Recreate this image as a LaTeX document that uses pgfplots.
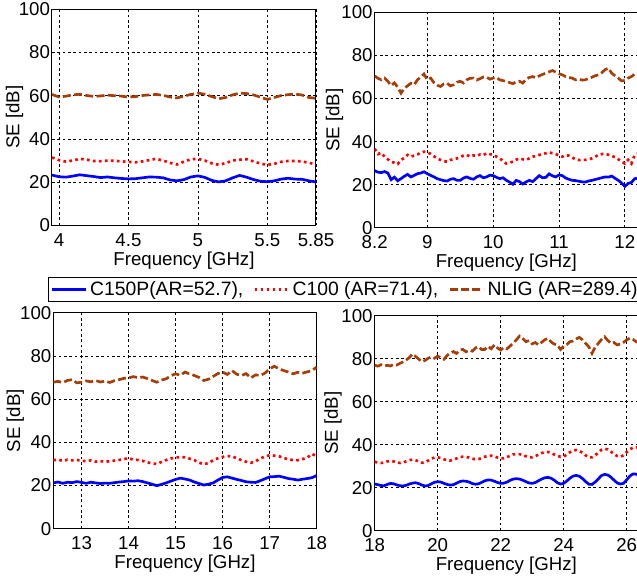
\documentclass[border=0pt]{standalone}
\usepackage{fontspec}
\setmainfont{Liberation Sans}
\usepackage{pgfplots}
\pgfplotsset{compat=1.18}
\definecolor{cblue}{RGB}{0,0,255}
\definecolor{cred}{RGB}{255,0,0}
\definecolor{cbrown}{RGB}{165,62,8}
\newcommand{\sefont}{\fontsize{14}{16}\selectfont}
\newcommand{\legfont}{\fontsize{14.5}{16}\selectfont}
\pgfplotsset{
  seaxis/.style={
    scale only axis, anchor=south west,
    ymin=0, ymax=100, ytick={0,20,40,60,80,100},
    grid=major,
    major grid style={black, line width=0.5pt, dash pattern=on 2pt off 2pt},
    axis line style={black, line width=0.75pt},
    tick style={draw=none},
    /pgf/number format/assume math mode=true,
    tick label style={font=\sefont},
    xticklabel style={yshift=-2.5pt},
    yticklabel style={xshift=2pt},
    label style={font=\sefont},
    xlabel={Frequency [GHz]}, ylabel={SE [dB]},
    xlabel style={at={(axis description cs:0.5,0)}, anchor=center, yshift=-26.5pt},
    clip=true,
  },
  sblue/.style={color=cblue, line width=2pt, solid},
  sred/.style={color=cred, line width=2pt, dash pattern=on 2pt off 2.5pt},
  sbrown/.style={color=cbrown, line width=2pt, dash pattern=on 6pt off 2.5pt},
}
\begin{document}
\begin{tikzpicture}
\useasboundingbox (0pt,0pt) rectangle (477.75pt,-434.25pt);
% ---------------- top left ----------------
\begin{axis}[seaxis, at={(39pt,-169pt)}, width=198pt, height=162pt,
  xmin=3.95, xmax=5.85, xtick={4,4.5,5,5.5,5.85},
  ylabel style={at={(axis description cs:-0.142,0.5)}, anchor=center},
  legend columns=3,
  legend style={at={(axis description cs:-0.0163,-0.2405)}, anchor=north west,
    draw=black, line width=0.75pt, fill=white, font=\legfont,
    inner xsep=2pt, inner ysep=1pt, nodes={inner sep=2pt},
    /tikz/every even column/.append style={column sep=5.5pt}},
  legend cell align=left,
  legend image code/.code={\draw[#1] (0pt,0pt) -- (25.5pt,0pt);},
]
\addplot[sblue] coordinates {(3.95,23.3) (4.00,22.5) (4.05,22.3) (4.10,22.8) (4.15,23.4) (4.20,23.0) (4.25,22.6) (4.30,22.1) (4.35,22.4) (4.40,22.0) (4.45,21.7) (4.50,21.5) (4.55,21.6) (4.60,22.0) (4.65,22.4) (4.70,22.3) (4.75,22.0) (4.80,21.0) (4.85,20.6) (4.90,21.2) (4.95,22.4) (5.00,22.9) (5.05,22.2) (5.10,20.8) (5.15,20.1) (5.20,20.6) (5.25,22.0) (5.30,23.1) (5.35,22.3) (5.40,21.2) (5.45,20.4) (5.50,20.2) (5.55,20.6) (5.60,21.4) (5.65,21.8) (5.70,21.4) (5.75,21.3) (5.80,20.6) (5.85,20.1)};
\addlegendentry{C150P(AR=52.7),}
\addplot[sred] coordinates {(3.95,31.4) (4.00,30.2) (4.05,29.5) (4.10,30.0) (4.15,30.8) (4.20,30.4) (4.25,29.8) (4.30,29.7) (4.35,30.0) (4.40,29.9) (4.45,29.6) (4.50,29.4) (4.55,29.2) (4.60,29.6) (4.65,30.2) (4.70,30.8) (4.75,30.0) (4.80,28.9) (4.85,28.2) (4.90,29.5) (4.95,30.6) (5.00,30.8) (5.05,30.0) (5.10,28.7) (5.15,28.0) (5.20,28.8) (5.25,30.0) (5.30,30.4) (5.35,30.6) (5.40,29.6) (5.45,28.6) (5.50,28.0) (5.55,28.5) (5.60,29.4) (5.65,29.8) (5.70,29.8) (5.75,29.6) (5.80,28.9) (5.85,28.3)};
\addlegendentry{C100 (AR=71.4),}
\addplot[sbrown] coordinates {(3.95,60.6) (4.00,59.4) (4.05,59.8) (4.10,60.4) (4.15,60.7) (4.20,60.1) (4.25,59.7) (4.30,59.9) (4.35,60.3) (4.40,60.0) (4.45,59.8) (4.50,59.4) (4.55,59.6) (4.60,60.1) (4.65,60.4) (4.70,60.6) (4.75,60.2) (4.80,59.4) (4.85,59.0) (4.90,59.8) (4.95,60.6) (5.00,61.2) (5.05,60.7) (5.10,59.6) (5.15,58.6) (5.20,59.2) (5.25,60.4) (5.30,61.2) (5.35,61.0) (5.40,60.4) (5.45,59.3) (5.50,58.3) (5.55,59.2) (5.60,60.1) (5.65,60.5) (5.70,60.8) (5.75,60.3) (5.80,59.2) (5.85,58.8)};
\addlegendentry{NLIG (AR=289.4)}
\end{axis}
% ---------------- top right ----------------
\begin{axis}[seaxis, at={(281pt,-170.8pt)}, width=197.5pt, height=161.5pt,
  xmin=8.2, xmax=12.2, xtick={8.2,9,10,11,12},
  ylabel style={at={(axis description cs:-0.152,0.5)}, anchor=center},
]
\addplot[sblue] coordinates {(8.20,26.5) (8.25,25.8) (8.30,25.6) (8.35,26.1) (8.40,25.4) (8.45,22.3) (8.50,23.5) (8.55,21.8) (8.60,22.8) (8.65,23.9) (8.70,24.8) (8.75,23.6) (8.80,24.3) (8.85,25.1) (8.90,25.4) (8.95,26.0) (9.00,25.1) (9.05,24.3) (9.10,23.6) (9.15,22.8) (9.20,22.3) (9.25,21.9) (9.30,21.7) (9.35,22.5) (9.40,22.8) (9.45,22.0) (9.50,22.0) (9.55,23.1) (9.60,23.6) (9.65,22.9) (9.70,22.5) (9.75,23.6) (9.80,24.2) (9.85,23.2) (9.90,23.6) (9.95,24.4) (10.00,24.2) (10.05,23.4) (10.10,22.8) (10.15,23.2) (10.20,22.0) (10.25,21.2) (10.30,20.2) (10.35,22.0) (10.40,21.4) (10.45,20.3) (10.50,21.3) (10.55,22.0) (10.60,21.4) (10.65,22.8) (10.70,24.2) (10.75,23.2) (10.80,23.4) (10.85,25.0) (10.90,24.1) (10.95,23.6) (11.00,24.5) (11.05,24.2) (11.10,23.1) (11.15,22.5) (11.20,22.0) (11.25,21.9) (11.30,21.6) (11.35,21.3) (11.40,21.2) (11.45,21.7) (11.50,22.0) (11.55,22.4) (11.60,22.8) (11.65,23.2) (11.70,23.6) (11.75,23.5) (11.80,24.0) (11.85,23.0) (11.90,22.0) (11.95,20.8) (12.00,19.2) (12.05,20.6) (12.10,21.0) (12.15,22.8) (12.20,23.0) (12.25,22.4) (12.30,23.1) (12.35,22.5) (12.40,22.8)};
\addplot[sred] coordinates {(8.20,36.6) (8.25,34.2) (8.30,34.8) (8.35,33.0) (8.40,31.8) (8.45,30.6) (8.50,30.2) (8.55,29.6) (8.60,31.5) (8.65,32.4) (8.70,33.8) (8.75,33.0) (8.80,33.5) (8.85,34.0) (8.90,34.8) (8.95,35.3) (9.00,35.0) (9.05,34.3) (9.10,33.2) (9.15,32.2) (9.20,31.5) (9.25,30.9) (9.30,30.7) (9.35,31.5) (9.40,31.8) (9.45,32.2) (9.50,32.8) (9.55,33.5) (9.60,33.8) (9.65,33.0) (9.70,33.6) (9.75,33.3) (9.80,34.0) (9.85,33.7) (9.90,34.6) (9.95,34.2) (10.00,33.8) (10.05,33.0) (10.10,32.2) (10.15,31.0) (10.20,29.8) (10.25,30.2) (10.30,30.7) (10.35,31.6) (10.40,32.2) (10.45,31.8) (10.50,31.5) (10.55,32.2) (10.60,33.0) (10.65,33.3) (10.70,33.8) (10.75,34.2) (10.80,34.6) (10.85,35.0) (10.90,34.6) (10.95,34.3) (11.00,33.5) (11.05,33.0) (11.10,33.6) (11.15,33.5) (11.20,32.6) (11.25,31.8) (11.30,31.4) (11.35,31.5) (11.40,31.5) (11.45,31.8) (11.50,32.2) (11.55,33.0) (11.60,33.8) (11.65,34.2) (11.70,34.3) (11.75,33.9) (11.80,33.3) (11.85,32.8) (11.90,31.8) (11.95,30.8) (12.00,29.8) (12.05,31.5) (12.10,29.8) (12.15,33.8) (12.20,34.5) (12.25,33.6) (12.30,33.0) (12.35,33.8) (12.40,34.0)};
\addplot[sbrown] coordinates {(8.20,70.5) (8.25,69.4) (8.30,68.7) (8.35,69.5) (8.40,68.0) (8.45,66.0) (8.50,67.3) (8.55,65.3) (8.60,62.5) (8.65,64.8) (8.70,65.9) (8.75,67.1) (8.80,66.4) (8.85,68.7) (8.90,70.0) (8.95,71.4) (9.00,68.7) (9.05,69.5) (9.10,67.4) (9.15,66.2) (9.20,65.6) (9.25,66.8) (9.30,67.1) (9.35,65.9) (9.40,66.4) (9.45,67.6) (9.50,68.0) (9.55,67.2) (9.60,68.7) (9.65,69.4) (9.70,69.5) (9.75,68.6) (9.80,69.2) (9.85,70.0) (9.90,69.9) (9.95,69.0) (10.00,69.5) (10.05,69.8) (10.10,68.7) (10.15,68.3) (10.20,68.0) (10.25,67.4) (10.30,66.9) (10.35,67.8) (10.40,68.0) (10.45,67.2) (10.50,69.0) (10.55,69.8) (10.60,70.2) (10.65,69.6) (10.70,70.5) (10.75,71.2) (10.80,71.8) (10.85,72.4) (10.90,73.0) (10.95,72.3) (11.00,71.5) (11.05,71.0) (11.10,70.2) (11.15,69.8) (11.20,69.5) (11.25,68.7) (11.30,69.0) (11.35,68.6) (11.40,68.7) (11.45,69.4) (11.50,69.9) (11.55,70.6) (11.60,71.0) (11.65,72.0) (11.70,73.4) (11.75,74.1) (11.80,71.8) (11.85,70.6) (11.90,69.5) (11.95,68.2) (12.00,68.4) (12.05,69.5) (12.10,70.2) (12.15,71.4) (12.20,71.0) (12.25,70.4) (12.30,71.2) (12.35,70.1) (12.40,70.6)};
\end{axis}
% ---------------- bottom left ----------------
\begin{axis}[seaxis, at={(40pt,-396.5pt)}, width=197.5pt, height=162pt,
  xmin=12.4, xmax=18, xtick={13,14,15,16,17,18},
  ylabel style={at={(axis description cs:-0.144,0.5)}, anchor=center},
]
\addplot[sblue] coordinates {(12.4,21.2) (12.5,21.6) (12.6,21.0) (12.7,21.5) (12.8,21.3) (12.9,21.8) (13.0,21.4) (13.1,21.0) (13.2,21.5) (13.3,21.2) (13.4,20.9) (13.5,21.1) (13.6,21.0) (13.7,21.3) (13.8,21.6) (13.9,21.8) (14.0,22.1) (14.1,22.0) (14.2,22.2) (14.3,21.8) (14.4,21.2) (14.5,20.6) (14.6,19.9) (14.7,20.5) (14.8,21.2) (14.9,22.0) (15.0,22.8) (15.1,23.4) (15.2,23.0) (15.3,22.5) (15.4,21.6) (15.5,20.9) (15.6,20.2) (15.7,20.6) (15.8,21.2) (15.9,22.5) (16.0,23.7) (16.1,24.0) (16.2,23.4) (16.3,22.8) (16.4,22.3) (16.5,21.7) (16.6,21.5) (16.7,21.4) (16.8,22.2) (16.9,23.1) (17.0,24.0) (17.1,24.1) (17.2,24.3) (17.3,23.8) (17.4,23.2) (17.5,22.9) (17.6,22.5) (17.7,22.9) (17.8,23.2) (17.9,23.6) (18.0,24.6)};
\addplot[sred] coordinates {(12.4,31.7) (12.5,32.0) (12.6,31.4) (12.7,31.9) (12.8,31.6) (12.9,31.8) (13.0,31.5) (13.1,31.2) (13.2,31.6) (13.3,31.0) (13.4,31.3) (13.5,31.0) (13.6,31.2) (13.7,31.5) (13.8,31.8) (13.9,32.2) (14.0,32.6) (14.1,32.0) (14.2,31.8) (14.3,31.4) (14.4,30.7) (14.5,30.2) (14.6,30.0) (14.7,30.9) (14.8,31.8) (14.9,32.5) (15.0,32.9) (15.1,33.2) (15.2,33.0) (15.3,32.4) (15.4,31.7) (15.5,30.6) (15.6,29.8) (15.7,30.4) (15.8,31.7) (15.9,32.6) (16.0,33.2) (16.1,33.6) (16.2,33.5) (16.3,32.6) (16.4,31.7) (16.5,31.0) (16.6,30.5) (16.7,31.2) (16.8,32.5) (16.9,33.4) (17.0,34.0) (17.1,33.8) (17.2,33.5) (17.3,32.8) (17.4,32.0) (17.5,31.8) (17.6,31.7) (17.7,32.2) (17.8,32.9) (17.9,34.6) (18.0,33.5)};
\addplot[sbrown] coordinates {(12.4,67.8) (12.5,68.2) (12.6,67.6) (12.7,68.6) (12.8,69.0) (12.9,67.5) (13.0,67.8) (13.1,68.4) (13.2,68.0) (13.3,68.6) (13.4,67.9) (13.5,68.3) (13.6,67.7) (13.7,68.5) (13.8,69.0) (13.9,69.6) (14.0,69.8) (14.1,70.4) (14.2,69.9) (14.3,70.2) (14.4,69.5) (14.5,68.6) (14.6,67.8) (14.7,68.8) (14.8,69.4) (14.9,70.8) (15.0,71.7) (15.1,71.0) (15.2,72.5) (15.3,71.6) (15.4,70.9) (15.5,70.0) (15.6,68.6) (15.7,69.2) (15.8,70.5) (15.9,71.8) (16.0,72.5) (16.1,71.4) (16.2,73.2) (16.3,71.5) (16.4,70.9) (16.5,71.8) (16.6,69.8) (16.7,71.2) (16.8,70.9) (16.9,72.0) (17.0,74.0) (17.1,75.2) (17.2,74.0) (17.3,73.2) (17.4,72.5) (17.5,71.7) (17.6,72.4) (17.7,72.0) (17.8,72.6) (17.9,73.2) (18.0,74.8)};
\end{axis}
% ---------------- bottom right ----------------
\begin{axis}[seaxis, at={(281pt,-398pt)}, width=197.5pt, height=161.25pt,
  xmin=18, xmax=26.36, xtick={18,20,22,24,26},
  ylabel style={at={(axis description cs:-0.158,0.5)}, anchor=center},
]
\addplot[sblue] coordinates {(18.0,21.7) (18.1,21.4) (18.2,21.0) (18.3,20.9) (18.4,21.5) (18.5,22.0) (18.6,21.8) (18.7,21.3) (18.8,20.9) (18.9,20.8) (19.0,21.1) (19.1,21.7) (19.2,22.1) (19.3,22.3) (19.4,21.9) (19.5,21.2) (19.6,20.8) (19.7,21.0) (19.8,21.8) (19.9,22.5) (20.0,22.8) (20.1,22.6) (20.2,22.0) (20.3,21.5) (20.4,21.2) (20.5,21.4) (20.6,22.1) (20.7,22.8) (20.8,23.1) (20.9,23.0) (21.0,22.6) (21.1,21.9) (21.2,21.6) (21.3,21.8) (21.4,22.5) (21.5,23.2) (21.6,23.6) (21.7,23.5) (21.8,23.0) (21.9,22.4) (22.0,22.0) (22.1,22.1) (22.2,22.6) (22.3,23.4) (22.4,24.0) (22.5,24.2) (22.6,24.0) (22.7,23.5) (22.8,22.8) (22.9,22.2) (23.0,22.0) (23.1,22.4) (23.2,23.2) (23.3,24.0) (23.4,24.6) (23.5,24.8) (23.6,24.4) (23.7,23.5) (23.8,22.3) (23.9,21.7) (24.0,22.0) (24.1,23.1) (24.2,24.4) (24.3,25.4) (24.4,25.7) (24.5,25.3) (24.6,24.2) (24.7,22.8) (24.8,21.6) (24.9,21.5) (25.0,22.6) (25.1,24.1) (25.2,25.6) (25.3,26.2) (25.4,25.9) (25.5,24.9) (25.6,23.5) (25.7,22.2) (25.8,21.7) (25.9,22.0) (26.0,23.6) (26.1,25.4) (26.2,26.4) (26.3,26.3) (26.4,25.6) (26.5,25.0)};
\addplot[sred] coordinates {(18.0,32.0) (18.1,31.7) (18.2,31.5) (18.3,31.6) (18.4,32.2) (18.5,32.4) (18.6,32.2) (18.7,31.8) (18.8,31.5) (18.9,31.6) (19.0,32.3) (19.1,32.8) (19.2,33.0) (19.3,32.8) (19.4,32.2) (19.5,31.6) (19.6,31.8) (19.7,32.6) (19.8,33.5) (19.9,34.0) (20.0,34.1) (20.1,33.8) (20.2,33.2) (20.3,32.8) (20.4,32.6) (20.5,33.0) (20.6,33.6) (20.7,34.2) (20.8,34.4) (20.9,34.3) (21.0,34.0) (21.1,33.5) (21.2,33.2) (21.3,33.3) (21.4,33.8) (21.5,34.4) (21.6,34.8) (21.7,34.9) (21.8,34.6) (21.9,34.0) (22.0,33.6) (22.1,33.7) (22.2,34.2) (22.3,34.9) (22.4,35.5) (22.5,35.7) (22.6,35.6) (22.7,35.2) (22.8,34.6) (22.9,34.2) (23.0,34.1) (23.1,34.6) (23.2,35.4) (23.3,36.1) (23.4,36.5) (23.5,36.6) (23.6,36.2) (23.7,35.4) (23.8,34.8) (23.9,34.4) (24.0,34.5) (24.1,35.4) (24.2,36.5) (24.3,37.3) (24.4,37.5) (24.5,37.1) (24.6,36.2) (24.7,35.0) (24.8,34.2) (24.9,34.1) (25.0,35.0) (25.1,36.4) (25.2,37.6) (25.3,38.1) (25.4,37.8) (25.5,36.8) (25.6,35.6) (25.7,34.7) (25.8,34.4) (25.9,35.0) (26.0,36.5) (26.1,37.8) (26.2,38.6) (26.3,38.8) (26.4,38.5) (26.5,38.3)};
\addplot[sbrown] coordinates {(18.0,77.0) (18.1,76.5) (18.2,77.2) (18.3,76.6) (18.4,76.9) (18.5,76.6) (18.6,77.3) (18.7,77.0) (18.8,77.8) (18.9,78.5) (19.0,79.4) (19.1,80.5) (19.2,82.2) (19.3,81.0) (19.4,79.8) (19.5,78.6) (19.6,79.2) (19.7,80.2) (19.8,80.9) (19.9,80.2) (20.0,81.2) (20.1,80.4) (20.2,79.7) (20.3,81.5) (20.4,82.6) (20.5,83.3) (20.6,82.4) (20.7,84.0) (20.8,84.3) (20.9,83.2) (21.0,84.0) (21.1,83.5) (21.2,85.0) (21.3,85.6) (21.4,84.2) (21.5,84.3) (21.6,85.8) (21.7,84.6) (21.8,86.4) (21.9,85.0) (22.0,84.0) (22.1,85.2) (22.2,84.6) (22.3,85.9) (22.4,87.2) (22.5,88.8) (22.6,90.5) (22.7,89.4) (22.8,87.9) (22.9,88.4) (23.0,86.9) (23.1,87.5) (23.2,86.4) (23.3,87.6) (23.4,88.8) (23.5,89.5) (23.6,87.8) (23.7,86.8) (23.8,86.4) (23.9,84.3) (24.0,85.8) (24.1,86.6) (24.2,87.9) (24.3,88.2) (24.4,89.2) (24.5,89.9) (24.6,88.7) (24.7,87.1) (24.8,85.5) (24.9,82.5) (25.0,85.4) (25.1,87.1) (25.2,88.9) (25.3,90.2) (25.4,88.5) (25.5,87.1) (25.6,87.5) (25.7,86.4) (25.8,86.8) (25.9,87.6) (26.0,88.7) (26.1,89.6) (26.2,89.0) (26.3,87.9) (26.4,87.4) (26.5,88.1)};
\end{axis}
\end{tikzpicture}
\end{document}
